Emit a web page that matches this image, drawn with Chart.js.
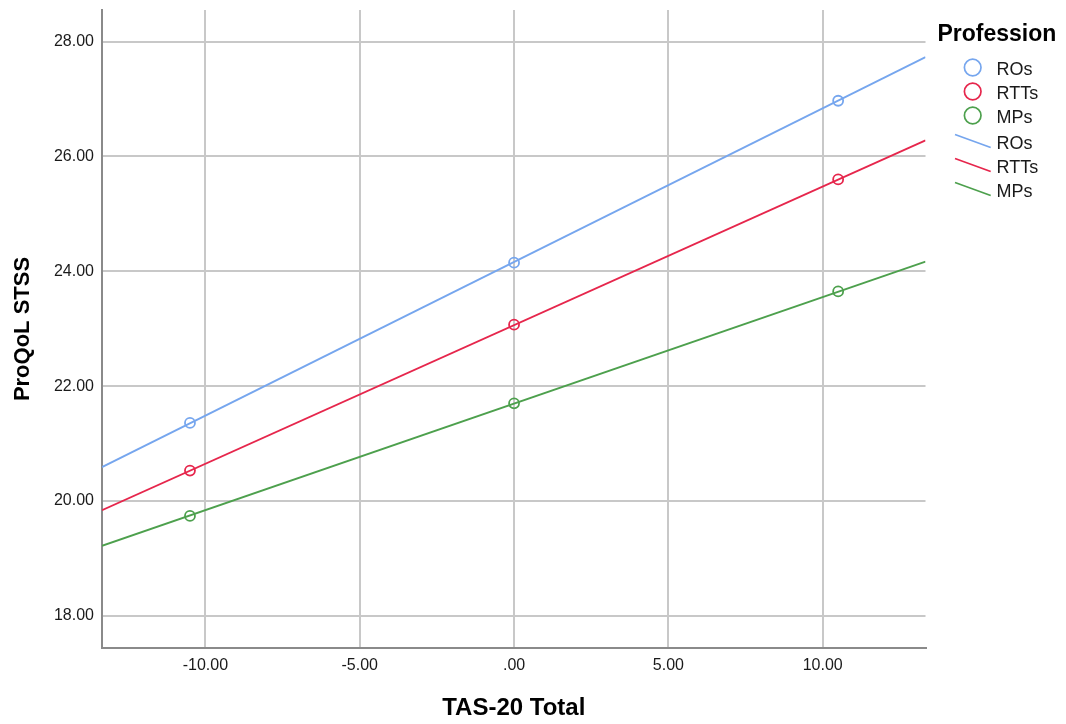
<!DOCTYPE html>
<html>
<head>
<meta charset="utf-8">
<script src="https://cdn.jsdelivr.net/npm/chart.js@4.4.1/dist/chart.umd.min.js"></script>
<style>
  html, body { margin: 0; padding: 0; background: #ffffff; }
  #wrap { position: relative; width: 1066px; height: 724px; overflow: hidden; }
  #c { position: absolute; left: 0; top: 0; }
  #legend { position: absolute; left: 0; top: 0; }
</style>
</head>
<body>
<div id="wrap">
  <canvas id="c" width="1066" height="724"></canvas>
  <svg id="legend" width="1066" height="724" xmlns="http://www.w3.org/2000/svg"></svg>
</div>
<script>
// ---- Data ----
const seriesNames = ['ROs', 'RTTs', 'MPs'];
const seriesColors = ['#76A6EE', '#E6264C', '#4DA04D'];
const xValues = [-10.5, 0, 10.5];
const roValues = [21.36, 24.15, 26.97];
const rttValues = [20.53, 23.07, 25.60];
const mpValues = [19.74, 21.70, 23.65];
const fitX = [-13.35, 13.33];
const roFit = [20.59, 27.73];
const rttFit = [19.84, 26.28];
const mpFit = [19.22, 24.17];
const xTicks = [-10, -5, 0, 5, 10];
const xTickLabels = ['-10.00', '-5.00', '.00', '5.00', '10.00'];
const yTicks = [18, 20, 22, 24, 26, 28];
const yTickLabels = ['18.00', '20.00', '22.00', '24.00', '26.00', '28.00'];
const xTitle = 'TAS-20 Total';
const yTitle = 'ProQoL STSS';
const legendTitle = 'Profession';

const pointSeries = [roValues, rttValues, mpValues];
const fitSeries = [roFit, rttFit, mpFit];

const datasets = [];
fitSeries.forEach((vals, i) => {
  datasets.push({
    label: seriesNames[i],
    data: fitX.map((x, j) => ({ x: x, y: vals[j] })),
    showLine: true,
    borderColor: seriesColors[i],
    borderWidth: 1.8,
    pointRadius: 0,
    fill: false,
    order: 2
  });
});
pointSeries.forEach((vals, i) => {
  datasets.push({
    label: seriesNames[i],
    data: xValues.map((x, j) => ({ x: x, y: vals[j] })),
    showLine: false,
    borderColor: seriesColors[i],
    backgroundColor: 'rgba(0,0,0,0)',
    borderWidth: 1.8,
    pointRadius: 5,
    pointStyle: 'circle',
    order: 1
  });
});

const FAMILY = '"Liberation Sans", Arial, sans-serif';
const tickFont = { family: FAMILY, size: 16 };

new Chart(document.getElementById('c'), {
  type: 'scatter',
  data: { datasets: datasets },
  options: {
    responsive: false,
    devicePixelRatio: 1,
    animation: false,
    layout: { padding: { top: 10, right: 140.5, left: 0, bottom: 0 } },
    plugins: { legend: { display: false }, tooltip: { enabled: false } },
    scales: {
      x: {
        type: 'linear',
        min: -13.35,
        max: 13.33,
        afterFit: (s) => { s.height = 76; s.paddingLeft = 0; s.paddingRight = 0; },
        afterBuildTicks: (s) => { s.ticks = xTicks.map(v => ({ value: v })); },
        ticks: {
          color: '#1a1a1a',
          font: tickFont,
          padding: 8,
          maxRotation: 0,
          autoSkip: false,
          callback: (v) => xTickLabels[xTicks.indexOf(v)]
        },
        grid: { color: '#c8c8c8', lineWidth: 2, drawTicks: false, tickLength: 0 },
        border: { color: '#8a8a8a', width: 2 },
        title: { display: true, text: xTitle, color: '#000', font: { family: FAMILY, size: 24, weight: 'bold' }, padding: { top: 0, bottom: 1 } }
      },
      y: {
        type: 'linear',
        min: 17.44,
        max: 28.55,
        afterFit: (s) => { s.width = 102; s.paddingTop = 0; s.paddingBottom = 0; },
        afterBuildTicks: (s) => { s.ticks = yTicks.map(v => ({ value: v })); },
        ticks: {
          color: '#1a1a1a',
          font: tickFont,
          padding: 8,
          autoSkip: false,
          callback: (v) => yTickLabels[yTicks.indexOf(v)]
        },
        grid: { color: '#c8c8c8', lineWidth: 2, drawTicks: false, tickLength: 0 },
        border: { color: '#8a8a8a', width: 2 },
        title: { display: true, text: yTitle, color: '#000', font: { family: FAMILY, size: 22, weight: 'bold' }, padding: { top: 10, bottom: 0 } }
      }
    }
  }
});

// ---- Legend (SVG, real text) ----
const svg = document.getElementById('legend');
const NS = 'http://www.w3.org/2000/svg';
function el(tag, attrs, text) {
  const e = document.createElementNS(NS, tag);
  for (const k in attrs) e.setAttribute(k, attrs[k]);
  if (text !== undefined) e.textContent = text;
  svg.appendChild(e);
  return e;
}
el('text', { x: 937.5, y: 32.5, 'font-family': FAMILY, 'font-size': 23, 'font-weight': 'bold', fill: '#000', 'dominant-baseline': 'central' }, legendTitle);
const circleY = [67.5, 91.5, 115.5];
const lineY = [141, 165, 189];
seriesNames.forEach((name, i) => {
  el('circle', { cx: 972.7, cy: circleY[i], r: 8.3, fill: 'none', stroke: seriesColors[i], 'stroke-width': 1.7 });
  el('text', { x: 996.5, y: circleY[i] + 1.5, 'font-family': FAMILY, 'font-size': 18, fill: '#1a1a1a', 'dominant-baseline': 'central' }, name);
});
seriesNames.forEach((name, i) => {
  el('line', { x1: 955, y1: lineY[i] - 6.5, x2: 990.7, y2: lineY[i] + 6.5, stroke: seriesColors[i], 'stroke-width': 1.7 });
  el('text', { x: 996.5, y: lineY[i] + 2, 'font-family': FAMILY, 'font-size': 18, fill: '#1a1a1a', 'dominant-baseline': 'central' }, name);
});
</script>
</body>
</html>
